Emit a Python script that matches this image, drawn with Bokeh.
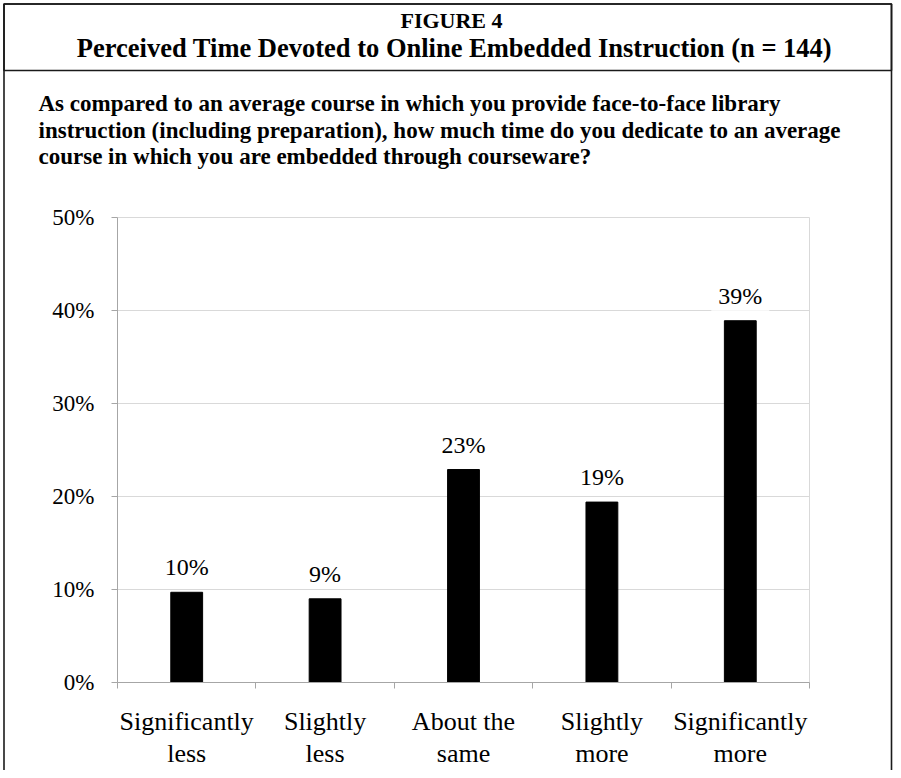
from bokeh.plotting import figure
from bokeh.models import (Range1d, FixedTicker, PrintfTickFormatter, Label,
                          BoxAnnotation, LinearAxis, Grid)
from bokeh.embed import file_html
from bokeh.resources import INLINE
from bokeh.core.properties import value

# ---------------- data ----------------
categories = ["Significantly\nless", "Slightly\nless", "About the\nsame",
              "Slightly\nmore", "Significantly\nmore"]
percentages = [9.7, 9.0, 22.9, 19.4, 38.9]
y_ticks = [0, 10, 20, 30, 40, 50]
title_text = "FIGURE 4"
subtitle_text = "Perceived Time Devoted to Online Embedded Instruction (n = 144)"
question_lines = [
    "As compared to an average course in which you provide face-to-face library",
    "instruction (including preparation), how much time do you dedicate to an average",
    "course in which you are embedded through courseware?",
]

# ---------------- layout (pixels on the canvas) ----------------
FONT = "Liberation Serif"
W, H = 893, 770
PX_L, PX_R, PX_T, PX_B = 117, 809, 217, 682      # chart area
AXIS_GRAY = "#a6a6a6"
GRID_GRAY = "#d9d9d9"
BORDER = "#1a1a1a"

n = len(categories)
centers = [i + 0.5 for i in range(n)]
bounds = list(range(n + 1))
ymin, ymax = y_ticks[0], y_ticks[-1]

ppx = (PX_R - PX_L) / n
ppy = (PX_B - PX_T) / (ymax - ymin)
x_range = Range1d(0 - PX_L / ppx, n + (W - PX_R) / ppx)
y_range = Range1d(ymin - (H - PX_B) / ppy, ymax + PX_T / ppy)


def sy(canvas_y):
    return H - canvas_y


p = figure(width=W, height=H, output_backend="svg", toolbar_location=None,
           x_range=x_range, y_range=y_range,
           x_axis_type=None, y_axis_type=None, min_border=0)
p.background_fill_color = "white"
p.border_fill_color = "white"
p.outline_line_color = None

# grid lines limited to the chart area
p.add_layout(Grid(dimension=1, ticker=FixedTicker(ticks=y_ticks),
                  cross_bounds=(0, n), grid_line_color=GRID_GRAY))
p.add_layout(Grid(dimension=0, ticker=FixedTicker(ticks=[bounds[-1]]),
                  cross_bounds=(ymin, ymax), grid_line_color=GRID_GRAY))

# y axis
yaxis = LinearAxis(fixed_location=0, bounds=(ymin, ymax),
                   ticker=FixedTicker(ticks=y_ticks),
                   formatter=PrintfTickFormatter(format="%d%%"),
                   axis_line_color=AXIS_GRAY, major_tick_line_color=AXIS_GRAY,
                   major_tick_out=6, major_tick_in=0,
                   minor_tick_out=0, minor_tick_in=0,
                   major_label_standoff=17,
                   major_label_text_font=FONT,
                   major_label_text_font_size="23px",
                   major_label_text_color="black")
p.add_layout(yaxis, "left")

# x axis: labels at category centres, tick marks at category boundaries
xaxis = LinearAxis(fixed_location=0, bounds=(0, n),
                   ticker=FixedTicker(ticks=centers, minor_ticks=bounds),
                   major_label_overrides={c: lab for c, lab in zip(centers, categories)},
                   axis_line_color=AXIS_GRAY,
                   major_tick_out=0, major_tick_in=0,
                   minor_tick_out=6, minor_tick_in=0,
                   minor_tick_line_color=AXIS_GRAY,
                   major_label_standoff=18,
                   major_label_text_font=FONT,
                   major_label_text_font_size="26px",
                   major_label_text_line_height=1.13,
                   major_label_text_color="black")
p.add_layout(xaxis, "below")

# bars
p.vbar(x=centers, top=percentages, bottom=0, width=0.23,
       fill_color="black", line_color="black")

# value labels
p.text(x=centers, y=percentages, text=[f"{round(v)}%" for v in percentages],
       y_offset=-25, text_align="center", text_baseline="alphabetic",
       text_font=value(FONT), text_font_size="24px", text_color="black",
       background_fill_color="white",
       padding=dict(left=7, right=7, top=2, bottom=2))

# frame box and header separator
for bottom_y in (H + 50, 70):
    p.add_layout(BoxAnnotation(left=3.5, right=W - 2, top=sy(3.5), bottom=sy(bottom_y),
                               left_units="screen", right_units="screen",
                               top_units="screen", bottom_units="screen",
                               fill_color=None, fill_alpha=0,
                               line_color=BORDER, line_alpha=1.0, line_width=1.6))

# header texts
p.add_layout(Label(x=451, y=sy(20), x_units="screen", y_units="screen",
                   text=title_text, text_align="center", text_baseline="middle",
                   text_font=FONT, text_font_style="bold", text_font_size="22px",
                   text_color="black"))
p.add_layout(Label(x=454, y=sy(47), x_units="screen", y_units="screen",
                   text=subtitle_text, text_align="center", text_baseline="middle",
                   text_font=FONT, text_font_style="bold", text_font_size="26.5px",
                   text_color="black"))
for line, cy in zip(question_lines, [103, 130, 156]):
    p.add_layout(Label(x=38, y=sy(cy), x_units="screen", y_units="screen",
                       text=line, text_align="left", text_baseline="middle",
                       text_font=FONT, text_font_style="bold", text_font_size="23px",
                       text_color="black"))

open("out.html", "w").write(file_html(p, INLINE, title="Figure 4"))
